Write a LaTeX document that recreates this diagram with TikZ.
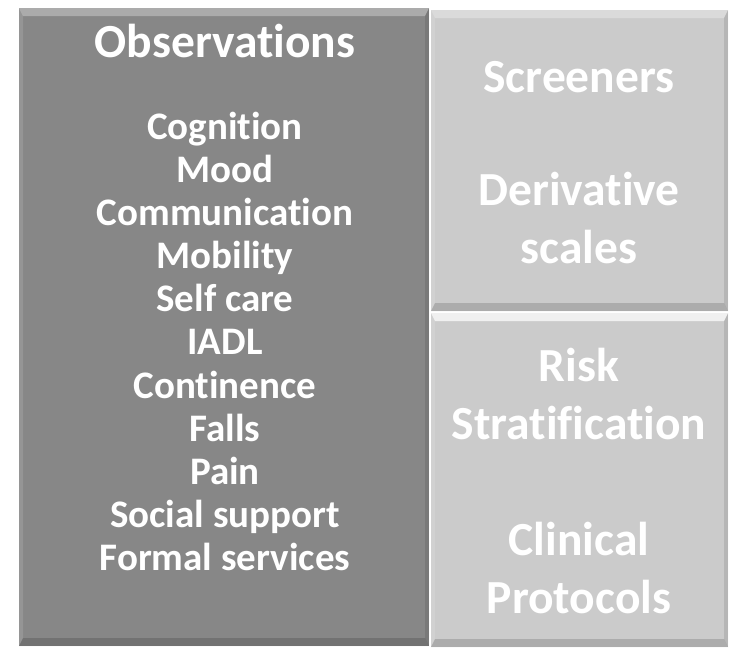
\documentclass[tikz,border=0pt]{standalone}
\usepackage{fontspec}
\setmainfont[Ligatures=NoCommon]{Carlito}
\definecolor{darkpanel}{HTML}{878787}
\definecolor{lightpanel}{HTML}{CBCBCB}
\tikzset{
  item/.style={text=white,inner sep=0pt,text height=0.644em,text depth=0pt,
    font=\bfseries\fontsize{39}{43}\selectfont},
  head/.style={item,font=\bfseries\fontsize{47.5}{50}\selectfont},
}
% panel with bevelled edges: x1,y1,x2,y2,fill
\newcommand\panel[5]{%
  \fill[#5] (#1,#2) rectangle (#3,#4);
  \fill[white,opacity=.3] (#1,#2) -- (#3,#2) -- (#3-4,#2+8) -- (#1+4,#2+8) -- cycle;
  \fill[white,opacity=.12] (#1,#2) -- (#1+4,#2+8) -- (#1+4,#4-8) -- (#1,#4) -- cycle;
  \fill[black,opacity=.1] (#3,#2) -- (#3-4,#2+8) -- (#3-4,#4-8) -- (#3,#4) -- cycle;
  \fill[black,opacity=.15] (#1,#4) -- (#1+4,#4-8) -- (#3-4,#4-8) -- (#3,#4) -- cycle;
}

\begin{document}
\begin{tikzpicture}[x=1pt,y=-1pt]
\useasboundingbox[fill=white] (0,0) rectangle (733,648);
\panel{19}{8}{429}{646}{darkpanel}
\panel{431}{10}{728}{311}{lightpanel}
\panel{431}{313}{728}{647}{lightpanel}
\fill[white,opacity=.6] (431,313) -- (728,313) -- (724,321) -- (435,321) -- cycle;

\node[head] (obs) at (225,54) {Observations};
\node[item] (cog) at (225,136) {Cognition}; \node[item] (mood) at (225,179) {Mood};
\node[item] (comm) at (225,222) {Communication}; \node[item] (mob) at (225,265) {Mobility};
\node[item] (self) at (225,308) {Self care}; \node[item] (iadl) at (225,351) {IADL};
\node[item] (cont) at (225,395) {Continence}; \node[item] (falls) at (225,438) {Falls};
\node[item] (pain) at (225,481) {Pain}; \node[item] (soc) at (225,524) {Social support};
\node[item] (formal) at (225,567) {Formal services};

\node[head] (scr) at (579,89) {Screeners};
\node[head] (deriv) at (579,202) {Derivative}; \node[head] (scales) at (579,260) {scales};
\node[head] (risk) at (579,378) {Risk}; \node[head] (strat) at (579,436) {Stratification};
\node[head] (clin) at (579,552) {Clinical}; \node[head] (prot) at (579,610) {Protocols};
\end{tikzpicture}
\end{document}
